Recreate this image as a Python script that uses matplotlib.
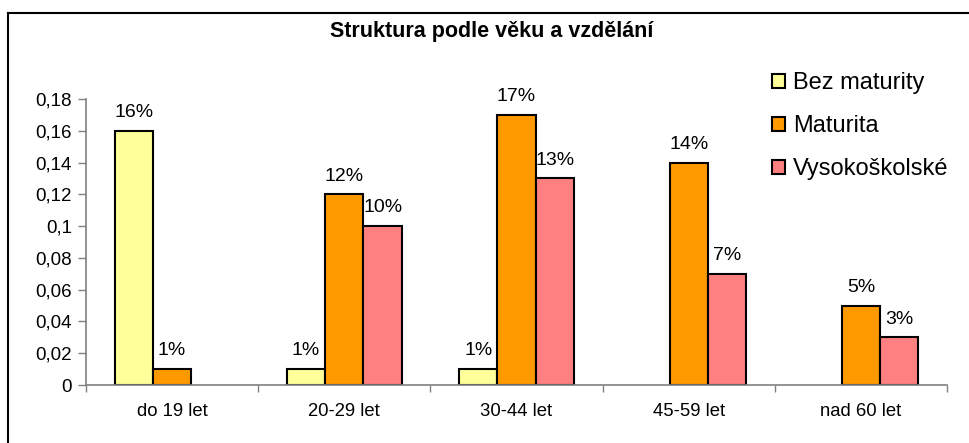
import numpy as np
import matplotlib
matplotlib.use('Agg')
import matplotlib.pyplot as plt
from matplotlib.lines import Line2D

plt.rcParams['font.family'] = ['Liberation Sans', 'DejaVu Sans']

# Data
categories = ['do 19 let', '20-29 let', '30-44 let', '45-59 let', 'nad 60 let']
bez_maturity = [0.16, 0.01, 0.01, None, None]
maturita = [0.01, 0.12, 0.17, 0.14, 0.05]
vysokoskolske = [None, 0.10, 0.13, 0.07, 0.03]
series_names = ['Bez maturity', 'Maturita', 'Vysokoškolské']
colors = ['#FFFF99', '#FF9900', '#FF8080']
yticks = [0, 0.02, 0.04, 0.06, 0.08, 0.1, 0.12, 0.14, 0.16, 0.18]

W, H = 970, 443
fig = plt.figure(figsize=(W / 100, H / 100), dpi=100)
ax = fig.add_axes([86 / W, 1 - 385 / H, (947 - 86) / W, (385 - 99) / H])

x = np.arange(len(categories))
width = 1 / 4.5
for i, (vals, name, col) in enumerate(zip([bez_maturity, maturita, vysokoskolske], series_names, colors)):
    xs = [xi + (i - 1) * width for xi, v in zip(x, vals) if v is not None]
    hs = [v for v in vals if v is not None]
    bars = ax.bar(xs, hs, width, color=col, edgecolor='black', linewidth=1.5, label=name)
    ax.bar_label(bars, labels=[f'{v * 100:.0f}%' for v in hs], padding=7, fontsize=14)

ax.set_xlim(-0.5, len(categories) - 0.5)
ax.set_ylim(0, 0.18)
ax.set_yticks(yticks)
ax.set_yticklabels([f'{t:g}'.replace('.', ',') for t in yticks], fontsize=13.5)
ax.set_xticks(x)
ax.set_xticklabels(categories, fontsize=13.3)
ax.tick_params(axis='x', length=0, pad=13)
ax.set_xticks(np.arange(len(categories) + 1) - 0.5, minor=True)
ax.tick_params(axis='x', which='minor', length=5, color='#808080', width=1)
ax.tick_params(axis='y', length=6, color='#808080', width=1, pad=4)

for s in ['top', 'right']:
    ax.spines[s].set_visible(False)
for s in ['left', 'bottom']:
    ax.spines[s].set_color('#808080')
    ax.spines[s].set_linewidth(1.2)

fig.text(492 / W, 1 - 32 / H, 'Struktura podle věku a vzdělání', ha='center', va='center',
         fontsize=15.5, fontweight='bold')

ax.legend(loc='upper left', bbox_to_anchor=(772 / W, 1 - 72 / H), bbox_transform=fig.transFigure,
          frameon=False, fontsize=17, handlelength=0.55, handleheight=0.55, handletextpad=0.35,
          labelspacing=0.9, borderpad=0, borderaxespad=0)

# chart area frame (left and top edges visible)
fig.add_artist(Line2D([8 / W, 8 / W], [0, 1 - 13 / H], transform=fig.transFigure, color='black', lw=1.5))
fig.add_artist(Line2D([8 / W, 1], [1 - 13 / H, 1 - 13 / H], transform=fig.transFigure, color='black', lw=1.5))

fig.savefig('out.png', dpi=100)
